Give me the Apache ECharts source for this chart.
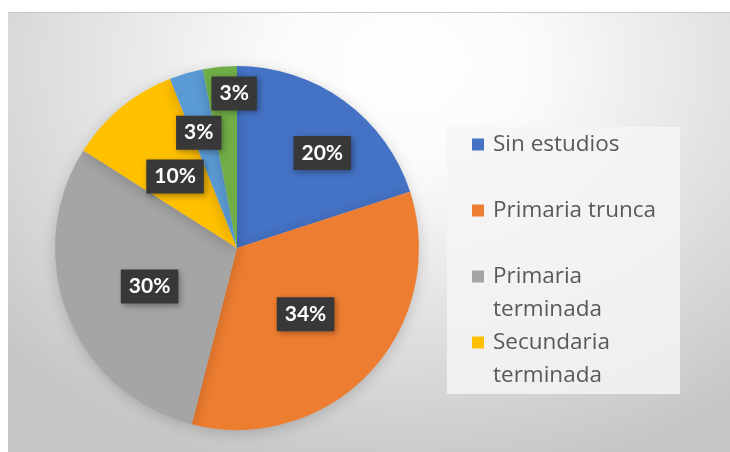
<!DOCTYPE html>
<html>
<head>
<meta charset="utf-8">
<script src="https://cdn.jsdelivr.net/npm/echarts@6/dist/echarts.min.js"></script>
<style>
    html, body { margin: 0; padding: 0; background: #ffffff; }
    #bg {
        position: absolute; left: 8px; top: 12px; width: 722px; height: 440px;
        border-top: 1px solid #c8c8c8;
        background: radial-gradient(ellipse 75% 95% at 55% 12%, #ffffff 0%, #fafafa 25%, #e2e2e2 60%, #c6c6c6 100%);
    }
    #chart { position: absolute; left: 0; top: 0; width: 730px; height: 452px; }
</style>
</head>
<body>
<div id="bg"></div>
<div id="chart"></div>
<script>
// categorias (las dos ultimas no caben en la leyenda)
var categories = ["Sin estudios", "Primaria trunca", "Primaria terminada", "Secundaria terminada", "Superior trunca", "Superior terminada"];
var values = [20, 34, 30, 10, 3, 3];
var colors = ["#4472C4", "#ED7D31", "#A5A5A5", "#FFC000", "#5B9BD5", "#70AD47"];
// nombres en la leyenda, partidos en dos lineas como en el original
var legendLines = [["Sin estudios", ""], ["Primaria trunca", ""], ["Primaria", "terminada"], ["Secundaria", "terminada"]];
// desplazamiento de las etiquetas respecto a la posicion "inside"
var labelShift = [[30, -19], [0, 2], [0, 4], [-2, 1], [-12, -25], [6, -61]];

var data = [];
for (var i = 0; i < categories.length; i++) {
    data.push({ name: categories[i], value: values[i], itemStyle: { color: colors[i] } });
}

var rich = { t: { fontSize: 22.5, lineHeight: 33, color: "#595959", fontFamily: "Open Sans" }, sp: { width: 21, height: 33, lineHeight: 33 } };
for (var i = 0; i < 4; i++) {
    rich["m" + i] = { width: 12, height: 12, backgroundColor: colors[i], padding: 0 };
}
rich.g = { width: 9 };

var myChart = echarts.init(document.getElementById("chart"));
var option = {
    animation: false,
    legend: {
        orient: "vertical",
        left: 447,
        top: 127,
        data: categories.slice(0, 4),
        icon: "none",
        itemWidth: 0,
        itemHeight: 12,
        itemGap: 0,
        padding: [1, 24, 2, 20],
        backgroundColor: "rgba(245,245,245,0.85)",
        selectedMode: false,
        formatter: function (name) {
            var k = categories.indexOf(name);
            var l = legendLines[k];
            return "{m" + k + "|}{g|}{t|" + l[0] + "}\n{sp|}{t|" + l[1] + "}";
        },
        textStyle: { rich: rich, lineHeight: 33 }
    },
    series: [{
        type: "pie",
        center: [237, 248],
        radius: 182,
        startAngle: 90,
        clockwise: true,
        data: data,
        itemStyle: { borderWidth: 0, shadowBlur: 14, shadowColor: "rgba(0,0,0,0.18)", shadowOffsetY: 3 },
        label: {
            position: "inside",
            formatter: function (p) { return Math.round(p.percent) + "%"; },
            color: "#ffffff",
            fontFamily: "Lato",
            fontWeight: "bold",
            fontSize: 21,
            backgroundColor: "#383838",
            padding: [7, 8, 6, 8],
            shadowBlur: 6,
            shadowColor: "rgba(0,0,0,0.35)",
            shadowOffsetX: 2,
            shadowOffsetY: 2
        },
        labelLine: { show: false },
        emphasis: { disabled: true },
        labelLayout: function (params) {
            var s = labelShift[params.dataIndex];
            return { dx: s[0], dy: s[1] };
        }
    }]
};
myChart.setOption(option);
</script>
</body>
</html>
